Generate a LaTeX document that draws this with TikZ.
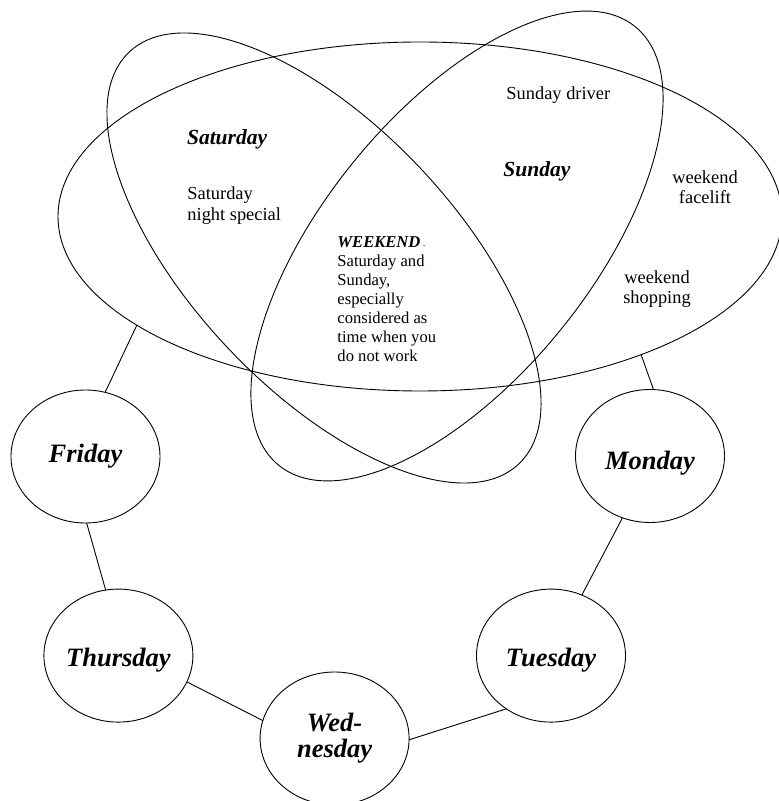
\documentclass[tikz,border=0pt]{standalone}
\usepackage{fontspec}
\setmainfont{Liberation Serif}
\usetikzlibrary{shapes.geometric}

\begin{document}
\begin{tikzpicture}[
            x=1pt, y=1pt,
            line width=0.9pt,
            day/.style={
                draw, ellipse, minimum width=149pt, minimum height=133pt,
                inner sep=0pt, outer sep=0pt, align=center,
                font=\fontsize{26.5}{26}\selectfont\bfseries\itshape,
            },
            low/.style={text height=#1, text depth=0pt},
            low/.default=22pt,
            note/.style={
                inner sep=0pt, font=\fontsize{18.4}{20.5}\selectfont,
            },
            head/.style={
                inner sep=0pt, font=\fontsize{21.5}{24}\selectfont\bfseries\itshape,
            },
        ]
        \useasboundingbox (0, 0) rectangle (779, 801);

        % weekend sets
        \draw node[draw, ellipse, minimum width=724pt, minimum height=349pt,
            inner sep=0pt, outer sep=0pt] (wk) at (420, 584.5) {};
        \draw[rotate around={-46.6:(324, 543)}] (324, 543) ellipse [x radius=283.5, y radius=131.7];
        \draw[rotate around={50.9:(457, 555)}] (457, 555) ellipse [x radius=282.6, y radius=133.3];

        % set labels
        \draw node[head, anchor=base west] (sat) at (186.6, 656.7) {Saturday};
        \draw node[head, anchor=base west] (sun) at (503, 624.3) {Sunday};
        \draw node[note, anchor=base west] (drv) at (506, 701.7) {Sunday driver};
        \draw node[note, anchor=north west, align=left] (snsp) at (187, 614.3) {Saturday\\night special};
        \draw node[note, anchor=north, align=center] (face) at (705, 631) {weekend\\facelift};
        \draw node[note, anchor=north, align=center] (shop) at (657, 531) {weekend\\shopping};
        \draw node[note, anchor=north west, align=left, font=\fontsize{16.6}{19}\selectfont] (wkdef) at (337, 565)
            {\textbf{\textit{WEEKEND}}\,{\fontsize{7}{7}\selectfont -}\\Saturday and\\Sunday,\\especially\\considered as\\time when you\\do not work};

        % days
        \draw node[day] (Fri) at (85.5, 344.5) {Friday};
        \draw node[day, low=28pt] (Mon) at (650, 345) {Monday};
        \draw node[day, low] (Thu) at (118.4, 145.4) {Thursday};
        \draw node[day, low] (Tue) at (551, 145.4) {Tuesday};
        \draw node[day] (Wed) at (334.6, 62.5) {Wed-\\nesday};

        \draw (Fri.73) -- (wk.201.7);
        \draw (Mon.87) -- (wk.328);
        \draw (Fri.271) -- (Thu.101);
        \draw (Thu.339) -- (Wed.166);
        \draw (Wed.359) -- (Tue.230);
        \draw (Tue.63) -- (Mon.246);
    \end{tikzpicture}
\end{document}
